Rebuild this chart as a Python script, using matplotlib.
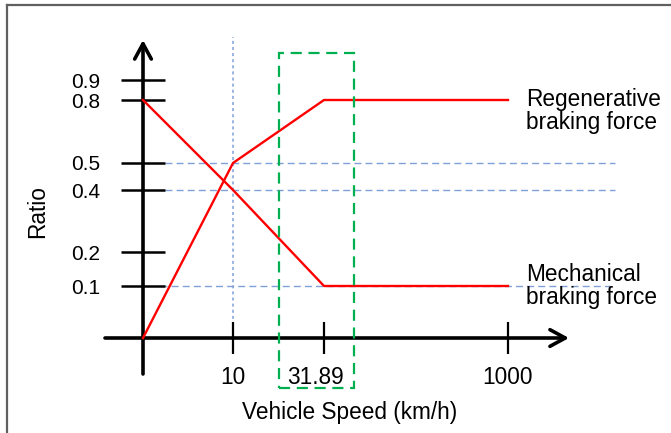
import numpy as np
import matplotlib
matplotlib.use("Agg")
import matplotlib.pyplot as plt
from matplotlib.patches import Rectangle
from matplotlib.lines import Line2D

plt.rcParams['font.family'] = ['Liberation Sans', 'DejaVu Sans']

# data
speed = [0, 10, 31.89, 1000]
regen = [0, 0.5, 0.8, 0.8]
mech = [0.8, 0.4, 0.1, 0.1]
x_ticks = [10, 31.89, 1000]
x_labels = ['10', '31.89', '1000']
y_ticks = [0.1, 0.2, 0.4, 0.5, 0.8, 0.9]
y_labels = ['0.1', '0.2', '0.4', '0.5', '0.8', '0.9']
guide_levels = [0.5, 0.4, 0.1]

# schematic (non-linear) axes: value -> pixel anchors
x_anchor_val = [0, 10, 31.89, 1000]
x_anchor_pix = [143, 233, 324, 508]
y_anchor_val = [0, 0.1, 0.2, 0.4, 0.5, 0.8, 0.9]
y_anchor_pix = [95, 147, 181, 243, 270, 333, 353]


def pw(v, xp, fp):
    v = np.asarray(v, float)
    lo = fp[0] + (v - xp[0]) * (fp[1] - fp[0]) / (xp[1] - xp[0])
    hi = fp[-1] + (v - xp[-1]) * (fp[-1] - fp[-2]) / (xp[-1] - xp[-2])
    return np.where(v < xp[0], lo, np.where(v > xp[-1], hi, np.interp(v, xp, fp)))


def xf(v): return pw(v, x_anchor_val, x_anchor_pix)
def xi(p): return pw(p, x_anchor_pix, x_anchor_val)
def yf(v): return pw(v, y_anchor_val, y_anchor_pix)
def yi(p): return pw(p, y_anchor_pix, y_anchor_val)


W, H = 671, 433
fig = plt.figure(figsize=(W / 100, H / 100), dpi=100)
ax = fig.add_axes([0, 0, 1, 1])
ax.set_xscale('function', functions=(xf, xi))
ax.set_yscale('function', functions=(yf, yi))
ax.set_xlim(float(xi(0)), float(xi(W)))
ax.set_ylim(float(yi(0)), float(yi(H)))
ax.patch.set_alpha(0)

for s in ax.spines.values():
    s.set_visible(False)
ax.spines['left'].set_position(('data', 0))
ax.spines['bottom'].set_position(('data', 0))

fs = 16.3
ax.set_yticks(y_ticks, y_labels)
ax.tick_params(axis='y', direction='inout', length=32, width=1.8, pad=15,
               labelsize=15, colors='black')
ax.set_xticks(x_ticks, ['', '', ''])
ax.tick_params(axis='x', direction='inout', length=23, width=1.6, pad=0)

# axis arrows
arr = dict(arrowstyle='->,head_length=0.55,head_width=0.3', lw=2.6,
           color='black', mutation_scale=20, shrinkA=0, shrinkB=0)
ax.annotate('', xy=(float(xi(569)), 0), xytext=(float(xi(105)), 0), arrowprops=arr)
ax.annotate('', xy=(0, float(yi(H - 40))), xytext=(0, float(yi(H - 374))), arrowprops=arr)

# guide lines
blue = '#7FA0D8'
ax.hlines(guide_levels[:2], 165 / W, 615 / W, transform=ax.get_yaxis_transform(),
          colors=blue, lw=1, linestyles=(0, (5, 3)), zorder=1)
ax.hlines(guide_levels[2], 160 / W, 610 / W, transform=ax.get_yaxis_transform(),
          colors=blue, lw=1, linestyles=(0, (5, 3)), zorder=1)
ax.axvline(10, (H - 325) / H, (H - 37) / H, color=blue, lw=1.1,
           linestyle=(0, (2, 2)), zorder=1)

# curves
ax.plot(speed, regen, color='#FF0000', lw=1.7, zorder=3)
ax.plot(speed, mech, color='#FF0000', lw=1.7, zorder=3)

# highlight box
ax.add_patch(Rectangle((279 / W, (H - 388) / H), 75 / W, 335 / H,
                       transform=ax.transAxes, fill=False, edgecolor='#00B050',
                       lw=1.6, linestyle=(0, (5, 3)), zorder=4))

# x tick labels
offsets = [0, -9, 0]
for v, lab, dx in zip(x_ticks, x_labels, offsets):
    ax.annotate(lab, (v, 0), xytext=(dx, -39), textcoords='offset pixels',
                ha='center', va='center', fontsize=fs)

ax.annotate('Regenerative\nbraking force', (1000, 0.8), xytext=(18, -11),
            textcoords='offset pixels', ha='left', va='center', fontsize=fs,
            linespacing=1.0)
ax.annotate('Mechanical\nbraking force', (1000, 0.1), xytext=(18, 0),
            textcoords='offset pixels', ha='left', va='center', fontsize=fs,
            linespacing=1.0)

ax.text(38 / W, 1 - 212 / H, 'Ratio', rotation=90, ha='center', va='center',
        fontsize=fs, transform=ax.transAxes)
ax.text(350 / W, 1 - 412 / H, 'Vehicle Speed (km/h)', ha='center', va='center',
        fontsize=fs, transform=ax.transAxes)

# outer frame (partial, cropped)
fig.add_artist(Line2D([7 / W, 1.01], [1 - 5 / H, 1 - 5 / H], color='#606060', lw=1.6,
                      transform=fig.transFigure))
fig.add_artist(Line2D([7 / W, 7 / W], [1 - 5 / H, -0.01], color='#606060', lw=1.6,
                      transform=fig.transFigure))

fig.savefig('out.png', dpi=100, facecolor='white')
